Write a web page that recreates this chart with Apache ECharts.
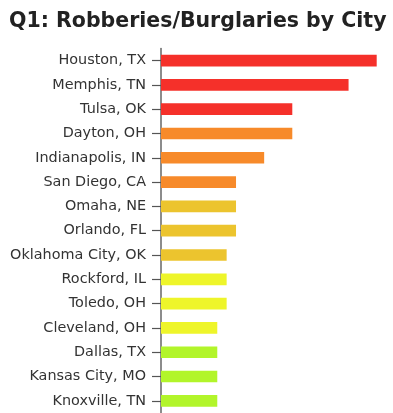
<!DOCTYPE html>
<html>
<head>
<meta charset="utf-8">
<script src="https://cdn.jsdelivr.net/npm/echarts@6/dist/echarts.min.js"></script>
<style>
html,body{margin:0;padding:0;background:#fff;}
#chart{width:393px;height:413px;}
</style>
</head>
<body>
<div id="chart"></div>
<script>
var cities = ["Houston, TX","Memphis, TN","Tulsa, OK","Dayton, OH","Indianapolis, IN","San Diego, CA","Omaha, NE","Orlando, FL","Oklahoma City, OK","Rockford, IL","Toledo, OH","Cleveland, OH","Dallas, TX","Kansas City, MO","Knoxville, TN"];
var counts = [23,20,14,14,11,8,8,8,7,7,7,6,6,6,6];
var barColors = ["#f5302a","#f5302a","#f5302a","#f78a2a","#f78a2a","#f78a2a","#ecc42e","#ecc42e","#ecc42e","#eef52a","#eef52a","#eef52a","#b2f52a","#b2f52a","#b2f52a"];

var chart = echarts.init(document.getElementById('chart'));
chart.setOption({
  animation:false,
  title:{
    text:"Q1: Robberies/Burglaries by City",
    left:4, top:6,
    textStyle:{fontFamily:"DejaVu Sans", fontWeight:"bold", fontSize:20.5, color:"#222"}
  },
  grid:{left:161, right:16.3, top:48.4, bottom:-4.4, containLabel:false},
  xAxis:{type:'value', min:0, max:23, show:false},
  yAxis:{
    type:'category', inverse:true, data:cities,
    axisLine:{show:true, lineStyle:{color:'#666', width:1.5}},
    axisTick:{show:true, alignWithLabel:true, length:9, lineStyle:{color:'#555', width:1.2}},
    axisLabel:{margin:15, fontFamily:"DejaVu Sans", fontSize:14.4, color:'#333'}
  },
  series:[{
    type:'bar', barWidth:'48%',
    data:counts.map(function(v,i){return {value:v, itemStyle:{color:barColors[i]}};})
  }]
});
</script>
</body>
</html>
